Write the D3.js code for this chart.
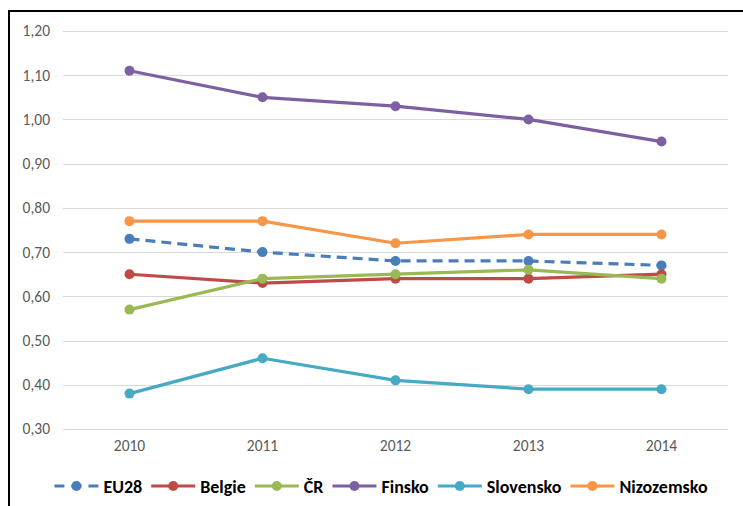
<!DOCTYPE html>
<html><head><meta charset="utf-8">
<script src="https://cdn.jsdelivr.net/npm/d3@7"></script>
<style>
html,body{margin:0;padding:0;background:#fff;}
svg{display:block;font-family:Carlito,Calibri,Lato,"Open Sans",sans-serif;}
</style></head>
<body>
<svg id="c" width="743" height="506"></svg>
<script>
const years = ["2010","2011","2012","2013","2014"];
const seriesNames = ["EU28","Belgie","ČR","Finsko","Slovensko","Nizozemsko"];
const eu28 = [0.73,0.70,0.68,0.68,0.67];
const belgie = [0.65,0.63,0.64,0.64,0.65];
const cr = [0.57,0.64,0.65,0.66,0.64];
const finsko = [1.11,1.05,1.03,1.00,0.95];
const slovensko = [0.38,0.46,0.41,0.39,0.39];
const nizozemsko = [0.77,0.77,0.72,0.74,0.74];
const yTicks = [0.30,0.40,0.50,0.60,0.70,0.80,0.90,1.00,1.10,1.20];
const colors = ["#4A7EBB","#BE4B48","#98B954","#7D60A0","#46AAC5","#F79646"];

const seriesValues = [eu28,belgie,cr,finsko,slovensko,nizozemsko];
const series = seriesNames.map((n,i)=>({name:n,values:seriesValues[i],color:colors[i],dashed:i===0}));

const svg = d3.select("#c");
// frame
svg.append("path").attr("d","M9,507 V11 H744").attr("fill","none").attr("stroke","#000").attr("stroke-width",2);

const pLeft=63, pRight=728, pTop=31, pBottom=429;
const x = d3.scaleBand().domain(years).range([pLeft,pRight]);
const y = d3.scaleLinear().domain([0.30,1.20]).range([pBottom,pTop]);

// gridlines
svg.append("g").selectAll("line").data(yTicks).join("line")
  .attr("x1",pLeft).attr("x2",pRight)
  .attr("y1",d=>Math.round(y(d))+0.5).attr("y2",d=>Math.round(y(d))+0.5)
  .attr("stroke","#D9D9D9").attr("stroke-width",1);

const fmt = d=>d.toFixed(2).replace(".",",");
const yAxis = svg.append("g").attr("transform",`translate(${pLeft},0)`)
  .call(d3.axisLeft(y).tickValues(yTicks).tickFormat(fmt).tickSize(0).tickPadding(13));
yAxis.select(".domain").remove();
yAxis.selectAll("text").attr("fill","#595959").style("font-size","15.5px").style("font-family","Carlito,Calibri,Lato,sans-serif");

const xAxis = svg.append("g").attr("transform",`translate(0,${pBottom})`)
  .call(d3.axisBottom(x).tickSize(0).tickPadding(11));
xAxis.select(".domain").remove();
xAxis.selectAll("text").attr("fill","#595959").style("font-size","15.5px").style("font-family","Carlito,Calibri,Lato,sans-serif");

const cx = d=>x(d)+x.bandwidth()/2;
const line = d3.line().x((d,i)=>cx(years[i])).y(d=>y(d));

series.forEach(s=>{
  const g = svg.append("g");
  g.append("path").datum(s.values).attr("d",line)
    .attr("fill","none").attr("stroke",s.color).attr("stroke-width",3.2)
    .attr("stroke-linejoin","round")
    .attr("stroke-dasharray",s.dashed?"10,6":null);
  g.selectAll("circle").data(s.values).join("circle")
    .attr("cx",(d,i)=>cx(years[i])).attr("cy",d=>y(d)).attr("r",5)
    .attr("fill",s.color);
});

// legend
const leg = svg.append("g");
const ly = 486;
const items = [];
series.forEach(s=>{
  const g = leg.append("g");
  g.append("line").attr("x1",0).attr("x2",44).attr("y1",0).attr("y2",0)
    .attr("stroke",s.color).attr("stroke-width",3.2)
    .attr("stroke-dasharray",s.dashed?"10,7,10,7,10":null);
  g.append("circle").attr("cx",22).attr("cy",0).attr("r",5).attr("fill",s.color);
  const t = g.append("text").attr("x",49).attr("y",6.5).text(s.name)
    .attr("font-weight","bold").attr("fill","#000").style("font-size","18px");
  const w = t.node().getComputedTextLength();
  items.push({g,w});
});
const gap = 9;
let total = items.reduce((a,it)=>a+49+it.w,0)+gap*(items.length-1);
let start = 381 - total/2;
items.forEach(it=>{
  it.g.attr("transform",`translate(${start},${ly})`);
  start += 49+it.w+gap;
});
</script>
</body></html>
